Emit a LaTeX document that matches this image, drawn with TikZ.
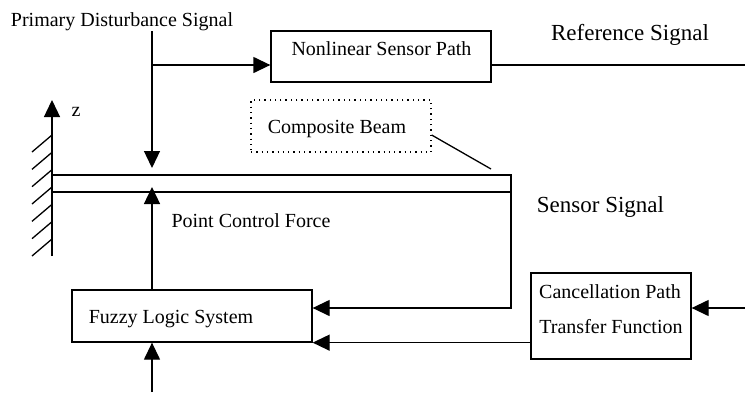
\documentclass[tikz,border=0pt]{standalone}
\usepackage{fontspec}
\setmainfont{Liberation Serif}
\usetikzlibrary{arrows.meta}
\begin{document}
\begin{tikzpicture}[x=0.5pt,y=-0.5pt,
  every path/.style={line width=0.65pt},
  arr/.style={-{Triangle[length=8.5pt,width=8pt]}},
  boxnode/.style={draw,line width=0.65pt,rectangle,inner sep=0pt},
  lbl/.style={inner sep=0pt,anchor=base,font=\fontsize{10}{12}\selectfont},
  biglbl/.style={inner sep=0pt,anchor=base,font=\fontsize{11.5}{13}\selectfont}]
\useasboundingbox (0,0) rectangle (745,392);
% boxes
\node[boxnode,minimum width=110pt,minimum height=25.5pt] (nsp) at (381,56.5) {};
\node[boxnode,dotted,minimum width=90pt,minimum height=26pt] (cb) at (341,126) {};
\node[boxnode,minimum width=120pt,minimum height=26pt] (fls) at (192,316) {};
\node[boxnode,minimum width=80pt,minimum height=43pt] (cpt) at (611,316) {};
% texts
\node[lbl] (tpd) at (122,26) {Primary Disturbance Signal};
\node[lbl] (tnsp) at (381.5,55.7) {Nonlinear Sensor Path};
\node[biglbl] (tref) at (630,40) {Reference Signal};
\node[lbl] (tcb) at (337,133) {Composite Beam};
\node[lbl] (tz) at (76,116) {z};
\node[biglbl] (tss) at (600.5,212) {Sensor Signal};
\node[lbl] (tpcf) at (251,227) {Point Control Force};
\node[lbl] (tfls) at (171,323) {Fuzzy Logic System};
\node[lbl] (tcp1) at (610,298) {Cancellation Path};
\node[lbl] (tcp2) at (611,333) {Transfer Function};
% coordinates
\coordinate (pd) at (152,31);
\coordinate (br) at (152,65);
\coordinate (dtip) at (152,168);
\coordinate (refend) at (745,65);
\coordinate (bTL) at (52,175);
\coordinate (bTR) at (511,175);
\coordinate (bBL) at (52,192);
\coordinate (bBR) at (511,192);
\coordinate (ss) at (511,308);
\coordinate (wb) at (52,256);
\coordinate (wt) at (52,100);
\coordinate (utip) at (152,187);
\coordinate (bin) at (152,392);
\coordinate (sin) at (745,308);
\coordinate (cbl) at (491,169);
% disturbance
\draw[arr] (pd) -- (dtip);
\draw[arr] (br) -- (br -| nsp.west);
\draw (nsp.east |- br) -- (refend);
% beam
\draw[arr] (bTL) -- (bTR) -- (ss) -- (ss -| fls.east);
\draw (bBL) -- (bBR);
% wall
\draw[arr] (wb) -- (wt);
\foreach \y in {135,152.33,169.67,187,204.33,221.67,239}
  \draw (52,\y) -- (32,\y+17);
% composite leader
\draw ([yshift=-4.5pt]cb.east) -- (cbl);
% control force
\draw[arr] (fls.north -| br) -- (utip);
\draw[arr] (bin) -- (bin |- fls.south);
% cancellation
\draw[arr] (sin) -- (sin -| cpt.east);
\draw[arr] (cpt.west |- fls.south) -- (fls.south east);
\end{tikzpicture}
\end{document}
